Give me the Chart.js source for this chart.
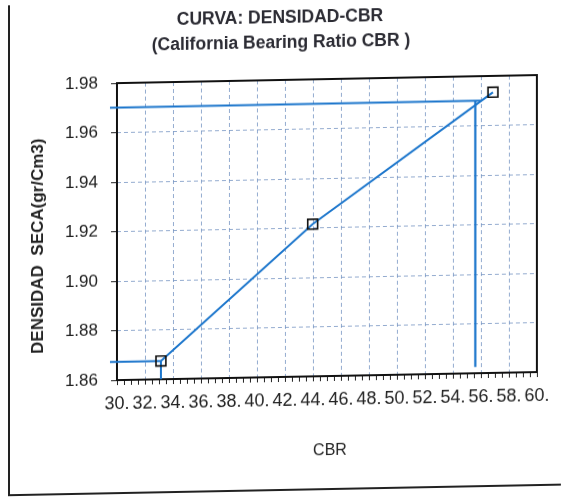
<!DOCTYPE html>
<html>
<head>
<meta charset="utf-8">
<script src="https://cdn.jsdelivr.net/npm/chart.js@4/dist/chart.umd.min.js"></script>
<style>
  html, body { margin: 0; padding: 0; background: #fff; overflow: hidden; }
  #wrap { width: 561px; height: 499px; }
  #chart { display: block; transform: skewY(-1.1deg); transform-origin: 280px 0; }
</style>
</head>
<body>
<div id="wrap"><canvas id="chart" width="561" height="499"></canvas></div>
<script>
// Compaction test results: CBR (%) against dry density (gr/Cm3)
const cbrValues = [33.14, 43.98, 56.86];
const dryDensity = [1.8674, 1.9215, 1.9734];

// Design density read-off line and its CBR
const designDensity = 1.9701;
const designCbrHorizontalEnd = 56.0;
const designCbr = 55.6;
const designDropEnd = 1.8625;
const guideStartCbr = 29.5;

// Axis ticks
const xTickValues = [30, 32, 34, 36, 38, 40, 42, 44, 46, 48, 50, 52, 54, 56, 58, 60];
const yTickValues = [1.86, 1.88, 1.90, 1.92, 1.94, 1.96, 1.98];

const titleLines = ['CURVA: DENSIDAD-CBR', '(California Bearing Ratio CBR )'];
const yTitle = 'DENSIDAD  SECA(gr/Cm3)';
const xTitle = 'CBR';

const BLUE = '#1c76cc';
const GRID = 'rgba(120,150,195,0.8)';
const FONT = '"Liberation Sans", Arial, sans-serif';

const curve = cbrValues.map((x, i) => ({ x, y: dryDensity[i] }));
const highGuide = [
  { x: guideStartCbr, y: designDensity },
  { x: designCbrHorizontalEnd, y: designDensity }
];
const highDrop = [
  { x: designCbr, y: designDensity },
  { x: designCbr, y: designDropEnd }
];
const lowGuide = [
  { x: guideStartCbr, y: dryDensity[0] },
  { x: cbrValues[0], y: dryDensity[0] },
  { x: cbrValues[0], y: yTickValues[0] }
];

// Frame, plot border and texts
const decorations = {
  id: 'decorations',
  beforeDatasetsDraw(chart) {
    const { ctx, chartArea: a } = chart;
    ctx.save();
    ctx.strokeStyle = '#111';
    ctx.lineWidth = 2;
    ctx.strokeRect(a.left, a.top, a.right - a.left, a.bottom - a.top);
    ctx.restore();
  },
  afterDraw(chart) {
    const { ctx, chartArea: a } = chart;
    ctx.save();
    // outer frame
    ctx.strokeStyle = '#222';
    ctx.lineWidth = 2;
    ctx.strokeRect(9, -4, 600, 494);

    ctx.fillStyle = '#2b2b33';
    ctx.textAlign = 'center';
    ctx.textBaseline = 'middle';
    ctx.font = 'bold 17.5px ' + FONT;
    ctx.fillText(titleLines[0], 280, 18);
    ctx.fillText(titleLines[1], 281, 43);

    ctx.font = '16px ' + FONT;
    ctx.fillStyle = '#222';
    ctx.fillText(xTitle, 330, 452);

    ctx.translate(38, (a.top + a.bottom) / 2 + 13);
    ctx.rotate(-Math.PI / 2);
    ctx.font = 'bold 17px ' + FONT;
    ctx.fillText(yTitle, 0, 0);
    ctx.restore();
  }
};

new Chart(document.getElementById('chart'), {
  type: 'scatter',
  data: {
    datasets: [
      {
        data: curve,
        showLine: true,
        borderColor: BLUE,
        borderWidth: 2,
        pointStyle: 'rect',
        pointRadius: 7,
        pointBorderColor: '#111',
        pointBorderWidth: 1.6,
        pointBackgroundColor: 'rgba(255,255,255,0)',
        clip: false
      },
      { data: highGuide, showLine: true, borderColor: BLUE, borderWidth: 2, pointRadius: 0, clip: false },
      { data: highDrop, showLine: true, borderColor: BLUE, borderWidth: 2.2, pointRadius: 0, clip: false },
      { data: lowGuide, showLine: true, borderColor: BLUE, borderWidth: 2, pointRadius: 0, clip: false }
    ]
  },
  options: {
    responsive: false,
    animation: false,
    devicePixelRatio: 1,
    layout: { padding: { left: 0, right: 24, top: 80, bottom: 0 } },
    plugins: { legend: { display: false }, tooltip: { enabled: false }, title: { display: false } },
    scales: {
      x: {
        type: 'linear',
        min: 30,
        max: 60,
        afterBuildTicks(scale) {
          const t = [];
          for (let v = xTickValues[0]; v <= xTickValues[xTickValues.length - 1] + 1e-9; v += 0.5) t.push({ value: v });
          scale.ticks = t;
        },
        afterFit(scale) { scale.height = 122; },
        ticks: {
          autoSkip: false,
          maxRotation: 0,
          padding: 8,
          color: '#222',
          font: { size: 18, family: FONT },
          callback: (v) => (xTickValues.includes(v) ? v + '.' : '')
        },
        grid: {
          color: (c) => (c.tick && xTickValues.includes(c.tick.value) && c.tick.value !== 30 && c.tick.value !== 60 ? GRID : 'rgba(0,0,0,0)'),
          tickColor: '#222',
          tickLength: 5,
          lineWidth: 1
        },
        border: { display: false, dash: [4, 3] }
      },
      y: {
        type: 'linear',
        min: 1.86,
        max: 1.98,
        afterBuildTicks(scale) { scale.ticks = yTickValues.map((v) => ({ value: v })); },
        afterFit(scale) { scale.width = 117; },
        ticks: {
          padding: 13,
          color: '#222',
          font: { size: 17, family: FONT },
          callback: (v) => Number(v).toFixed(2)
        },
        grid: {
          color: (c) => (c.tick && c.tick.value > 1.861 && c.tick.value < 1.979 ? GRID : 'rgba(0,0,0,0)'),
          tickColor: '#222',
          tickLength: 6,
          lineWidth: 1
        },
        border: { display: false, dash: [4, 3] }
      }
    }
  },
  plugins: [decorations]
});
</script>
</body>
</html>
